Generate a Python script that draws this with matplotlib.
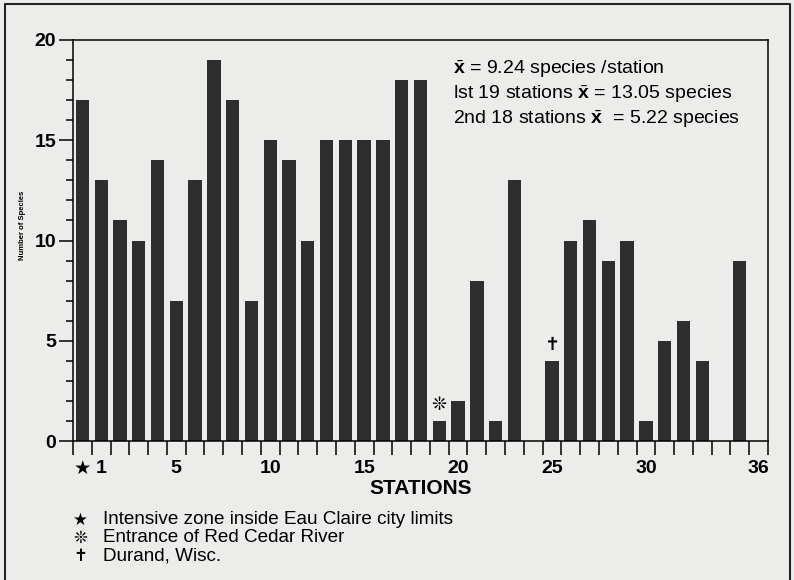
########## Number of species per station, Red Cedar / Chippewa survey
import numpy as np
import matplotlib.pyplot as plt
from matplotlib.ticker import MultipleLocator
from matplotlib.lines import Line2D

########## Data
stations      = list(range(0, 37))          # 0 = starred station
n_species     = [17, 13, 11, 10, 14, 7, 13, 19, 17, 7,
                 15, 14, 10, 15, 15, 15, 15, 18, 18, 1,
                 2, 8, 1, 13, 0, 4, 10, 11, 9, 10,
                 1, 5, 6, 4, 0, 9, 0]
tick_pos      = [0, 1, 5, 10, 15, 20, 25, 30, 36]
tick_labels   = ['★', '1', '5', '10', '15', '20', '25', '30', '36']
notes         = ['$\\bar{\\mathbf{x}}$ = 9.24 species /station',
                 'lst 19 stations $\\bar{\\mathbf{x}}$ = 13.05 species',
                 '2nd 18 stations $\\bar{\\mathbf{x}}$  = 5.22 species']
legend_syms   = ['★', '❊', '✝']
legend_texts  = ['Intensive zone inside Eau Claire city limits',
                 'Entrance of Red Cedar River',
                 'Durand, Wisc.']
marked        = {19: '❊', 25: '✝'}

########## Style
bg      = '#ececea'
barcol  = '#2e2e2e'
plt.rcParams['font.family'] = ['Liberation Sans', 'DejaVu Sans']
plt.rcParams['mathtext.fontset'] = 'custom'
plt.rcParams['mathtext.rm'] = 'Liberation Sans'
plt.rcParams['mathtext.bf'] = 'Liberation Sans:bold'

fig = plt.figure(figsize=(7.94, 5.80), dpi=100)
fig.set_facecolor(bg)
ax = fig.add_axes([73/794, 1-441/580, (768-73)/794, (441-40)/580])
ax.set_facecolor(bg)

ax.bar(stations, n_species, width=0.71, color=barcol, edgecolor='none')

ax.set_xlim(-0.5, 36.5)
ax.set_ylim(0, 20)

# y axis
ax.yaxis.set_major_locator(MultipleLocator(5))
ax.yaxis.set_minor_locator(MultipleLocator(1))
ax.tick_params(axis='y', which='major', direction='out', length=10, width=1.1,
               labelsize=14, pad=2)
ax.tick_params(axis='y', which='minor', direction='out', length=5, width=1.1)
for lab in ax.get_yticklabels():
    lab.set_fontweight('bold')

# x axis: tick marks between bars, labels under bars
ax.set_xticks(np.arange(-0.5, 37, 1))
ax.set_xticklabels([])
ax.tick_params(axis='x', which='major', direction='out', length=10, width=1.1)
ax.set_xticks(tick_pos, minor=True)
ax.set_xticklabels(tick_labels, minor=True)
ax.tick_params(axis='x', which='minor', length=0, labelsize=14, pad=14)
for lab in ax.get_xticklabels(minor=True):
    lab.set_fontweight('bold')

for sp in ax.spines.values():
    sp.set_linewidth(1.1)

ax.set_xlabel('STATIONS', fontsize=15, fontweight='bold', labelpad=1)
fig.text(23/794, 1-225/580, 'Number of Species', rotation=90, fontsize=5.5,
         fontweight='bold', ha='center', va='center')

# markers above special stations
for st, sym in marked.items():
    ax.text(st, n_species[st] + 0.35, sym, ha='center', va='bottom', fontsize=13,
            family=['DejaVu Sans'])

# mean values
for k, t in enumerate(notes):
    fig.text(453/794, 1-(69+25*k)/580, t, fontsize=14, ha='left', va='center')

# legend below
for k, (s, t) in enumerate(zip(legend_syms, legend_texts)):
    y = 1 - (520 + 18*k)/580
    fig.text(80/794, y, s, fontsize=12, ha='center', va='center', family=['DejaVu Sans'])
    fig.text(103/794, y, t, fontsize=13.6, ha='left', va='center')

# outer frame
fig.add_artist(Line2D([5/794, 5/794, 790/794, 790/794], [0, 1-4/580, 1-4/580, 0],
                      transform=fig.transFigure, color='#222222', lw=1.5))

plt.savefig('out.png', dpi=100, facecolor=bg)
